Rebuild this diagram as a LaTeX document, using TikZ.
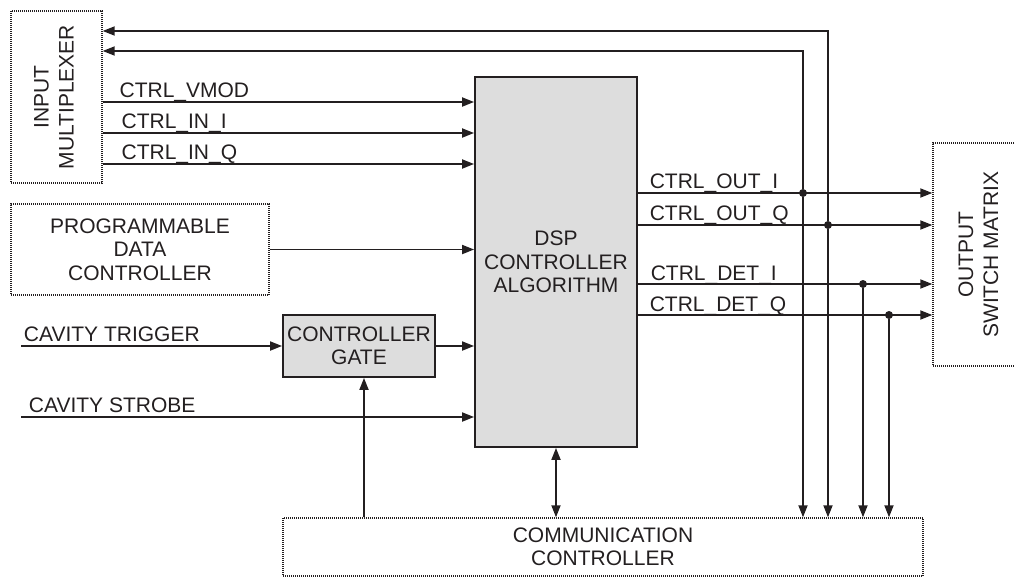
\documentclass[tikz,border=0pt]{standalone}
\usepackage{fontspec}
\setmainfont{Liberation Sans}
\usepackage{graphicx}
\usepackage{xcolor}
\usetikzlibrary{arrows.meta,positioning,calc}
\definecolor{linedark}{HTML}{231F20}
\definecolor{blockgray}{HTML}{DDDDDD}

\begin{document}
\begin{tikzpicture}[
    x=1pt,y=-1pt,
    line join=miter,
    every node/.style={font=\fontsize{21}{23.5}\selectfont, text=linedark},
    dotbox/.style={draw=linedark, line width=1.4pt, dash pattern=on 1pt off 1pt, align=center, inner sep=0pt},
    block/.style={draw=linedark, fill=blockgray, line width=1.8pt, align=center, inner sep=0pt},
    sig/.style={-{Triangle[length=12pt,width=9pt]}, line width=1.8pt, draw=linedark},
    bisig/.style={{Triangle[length=12pt,width=9pt]}-{Triangle[length=12pt,width=9pt]}, line width=1.8pt, draw=linedark},
    tap/.style={circle, fill=linedark, inner sep=0pt, minimum size=8pt},
    siglabel/.style={anchor=base west, inner sep=0pt}
]
\path[use as bounding box, clip] (0,0) rectangle (1015,579);

% Blocks
\node[dotbox, minimum width=91, minimum height=172] (mux) at (56.5,97) {\rotatebox{90}{\begin{tabular}{@{}c@{}}INPUT\\[1.5pt]MULTIPLEXER\end{tabular}}};
\node[dotbox, minimum width=258, minimum height=91] (pdc) at (140,249.5) {PROGRAMMABLE\\DATA\\CONTROLLER};
\node[block, minimum width=162, minimum height=370] (dsp) at (556,262) {DSP\\CONTROLLER\\ALGORITHM};
\node[block, minimum width=152, minimum height=62] (gate) at (359,346) {CONTROLLER\\GATE};
\node[dotbox, minimum width=96, minimum height=223] (outsw) at (981,254.5) {\rotatebox{90}{\begin{tabular}{@{}c@{}}OUTPUT\\[1.5pt]SWITCH MATRIX\end{tabular}}};
\node[dotbox, minimum width=640, minimum height=58] (comm) at (603,547) {COMMUNICATION\\CONTROLLER};

% Inputs to the DSP
\draw[sig] (mux.east |- 0,102) node[siglabel, xshift=16, yshift=5] (lvmod) {CTRL\_VMOD} -- (dsp.west |- 0,102);
\draw[sig] (mux.east |- 0,133) node[siglabel, xshift=18, yshift=5] (lini) {CTRL\_IN\_I} -- (dsp.west |- 0,133);
\draw[sig] (mux.east |- 0,164) node[siglabel, xshift=18, yshift=5] (linq) {CTRL\_IN\_Q} -- (dsp.west |- 0,164);
\draw[sig] (pdc.east) -- (pdc.east -| dsp.west);

\coordinate (trigin) at (21,346);
\coordinate (strbin) at (21,417);
\draw[sig] (trigin) node[siglabel, xshift=2, yshift=5] (ltrig) {CAVITY TRIGGER} -- (gate.west);
\draw[sig] (gate.east) -- (gate.east -| dsp.west);
\draw[sig] (strbin) node[siglabel, xshift=7, yshift=5] (lstrb) {CAVITY STROBE} -- (strbin -| dsp.west);

% Communication controller links
\coordinate (gatein) at ([xshift=5pt]gate.south);
\draw[sig] (gatein |- comm.north) -- (gatein);
\draw[bisig] (dsp.south) -- (dsp.south |- comm.north);

% Outputs with taps
\node[tap] (tapoi) at (803,193) {};
\node[tap] (tapoq) at (828,225) {};
\node[tap] (tapdi) at (863,284) {};
\node[tap] (tapdq) at (889,315) {};

\draw[sig] (dsp.east |- tapoi) node[siglabel, xshift=11, yshift=5] (loi) {CTRL\_OUT\_I} -- (tapoi -| outsw.west);
\draw[sig] (dsp.east |- tapoq) node[siglabel, xshift=11, yshift=5] (loq) {CTRL\_OUT\_Q} -- (tapoq -| outsw.west);
\draw[sig] (dsp.east |- tapdi) node[siglabel, xshift=12, yshift=4] (ldi) {CTRL\_DET\_I} -- (tapdi -| outsw.west);
\draw[sig] (dsp.east |- tapdq) node[siglabel, xshift=11, yshift=4] (ldq) {CTRL\_DET\_Q} -- (tapdq -| outsw.west);

\draw[sig] (tapoi) -- (tapoi |- comm.north);
\draw[sig] (tapoq) -- (tapoq |- comm.north);
\draw[sig] (tapdi) -- (tapdi |- comm.north);
\draw[sig] (tapdq) -- (tapdq |- comm.north);

% Feedback to the multiplexer
\coordinate (fbi) at (803,51);
\coordinate (fbq) at (828,31);
\draw[sig] (tapoi) -- (fbi) -- (fbi -| mux.east);
\draw[sig] (tapoq) -- (fbq) -- (fbq -| mux.east);

\end{tikzpicture}
\end{document}
